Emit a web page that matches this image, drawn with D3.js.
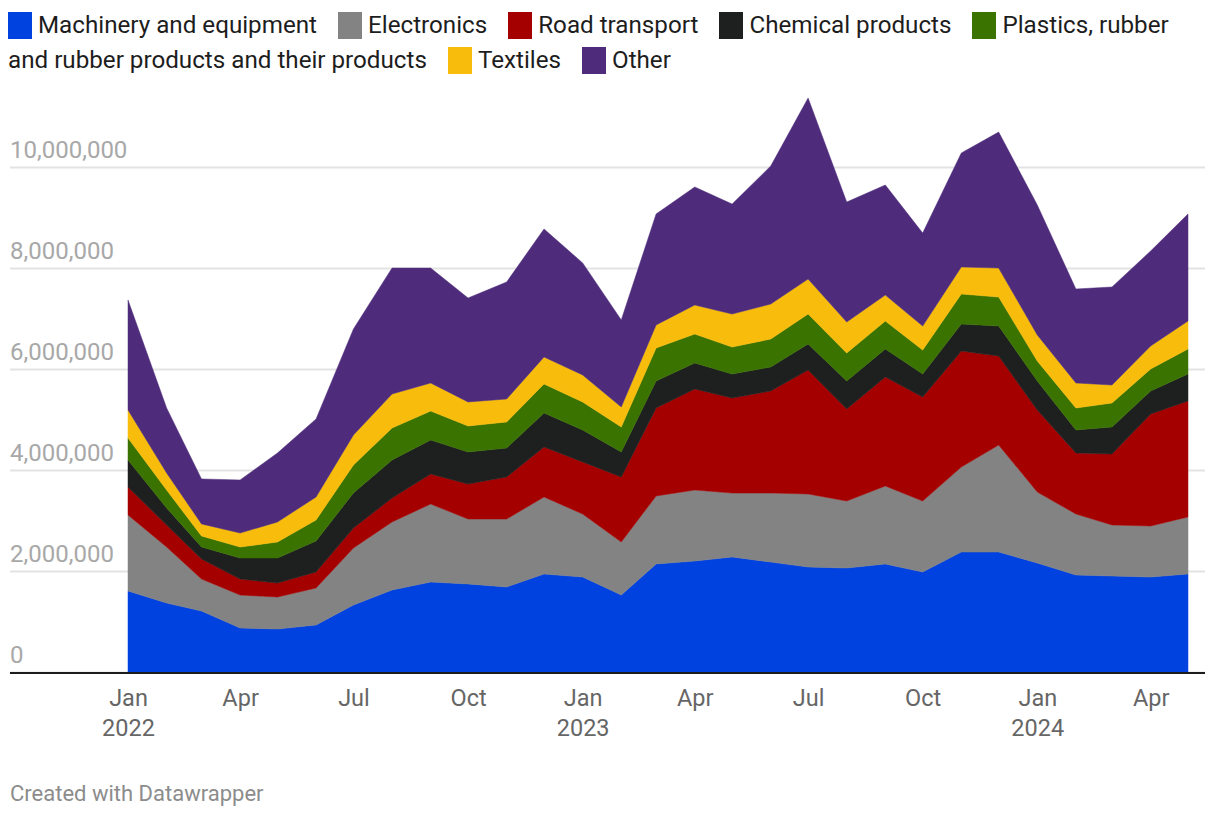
<!DOCTYPE html>
<html>
<head>
<meta charset="utf-8">
<script src="https://cdn.jsdelivr.net/npm/d3@7"></script>
<style>
  html, body { margin: 0; padding: 0; background: #fff; }
  body { width: 1220px; height: 818px; position: relative; font-family: Roboto, "Noto Sans", sans-serif; overflow: hidden; }
  #legend { position: absolute; left: 8px; top: 8px; width: 1202px; font-size: 24.2px; line-height: 35px; color: #1d1d1d; }
  .item { display: inline; margin-right: 21px; }
  .sw { display: inline-block; width: 24px; height: 27px; vertical-align: -6px; margin-right: 6px; }
  #footer { position: absolute; left: 10px; top: 781px; font-size: 22px; color: #8c8c8c; }
  svg { position: absolute; left: 0; top: 0; }
</style>
</head>
<body>
<div id="legend"></div>
<svg id="chart" width="1220" height="818"></svg>
<div id="footer">Created with Datawrapper</div>
<script>
const months = ["2022-01","2022-02","2022-03","2022-04","2022-05","2022-06","2022-07","2022-08","2022-09","2022-10","2022-11","2022-12",
  "2023-01","2023-02","2023-03","2023-04","2023-05","2023-06","2023-07","2023-08","2023-09","2023-10","2023-11","2023-12",
  "2024-01","2024-02","2024-03","2024-04","2024-05"];

const seriesNames = ["Machinery and equipment","Electronics","Road transport","Chemical products","Plastics, rubber and rubber products and their products","Textiles","Other"];
const seriesColors = ["#0042e0","#838383","#a40000","#1e1f1f","#3b7300","#f8bc0c","#4e2c7b"];

const machinery = [1604,1366,1208,871,851,931,1327,1624,1782,1743,1683,1941,1881,1525,2139,2198,2277,2178,2079,2059,2139,1980,2376,2376,2158,1921,1901,1881,1941];
const electronics = [1505,1109,634,653,634,733,1129,1347,1545,1287,1347,1525,1248,1050,1347,1406,1267,1366,1446,1327,1545,1406,1683,2119,1406,1208,1010,1010,1129];
const roadTransport = [554,436,396,317,277,317,396,475,594,693,832,990,1030,1287,1743,2000,1881,2020,2455,1822,2158,2059,2297,1762,1624,1208,1406,2218,2297];
const chemical = [535,337,238,416,495,614,693,752,673,634,574,673,634,495,535,515,475,475,515,554,554,455,535,594,574,455,535,455,535];
const plastics = [436,356,218,218,317,416,554,634,574,515,515,574,554,495,653,574,535,554,594,554,554,475,594,574,396,436,475,436,495];
const textiles = [554,337,238,277,396,455,594,673,554,475,455,535,535,396,455,574,653,693,693,614,515,475,535,574,515,495,356,455,554];
const other = [2178,1287,891,1050,1366,1545,2099,2495,2277,2059,2317,2535,2218,1723,2198,2337,2178,2733,3584,2376,2178,1842,2257,2693,2574,1861,1941,1881,2119];

const yTicks = [0, 2000000, 4000000, 6000000, 8000000, 10000000];
const xTickMonths = ["2022-01","2022-04","2022-07","2022-10","2023-01","2023-04","2023-07","2023-10","2024-01","2024-04"];

const seriesValues = [machinery, electronics, roadTransport, chemical, plastics, textiles, other];
const parse = d3.timeParse("%Y-%m");
const table = months.map((m, i) => {
  const row = { date: parse(m) };
  seriesNames.forEach((n, k) => row[n] = seriesValues[k][i] * 1000);
  return row;
});

// legend
const legend = d3.select("#legend");
seriesNames.forEach((n, k) => {
  const it = legend.append("span").attr("class", "item");
  it.append("span").attr("class", "sw").style("background", seriesColors[k]);
  it.append("span").text(n);
});

const svg = d3.select("#chart");
const x = d3.scaleTime().domain([parse(months[0]), parse(months[months.length - 1])]).range([128, 1188]);
const y = d3.scaleLinear().domain([0, 10000000]).range([672, 167]);

// gridlines + y labels
const yAxis = d3.axisRight(y).tickValues(yTicks).tickSize(1195).tickFormat(d3.format(","));
const gy = svg.append("g").attr("transform", "translate(10,0)").call(yAxis);
gy.select(".domain").remove();
gy.selectAll(".tick line").attr("stroke", "#e3e3e3").attr("stroke-width", 2);
gy.selectAll(".tick text").attr("x", 0).attr("dy", -10).attr("text-anchor", "start")
  .attr("fill", "#a8a8a8").style("font-size", "24px").style("font-family", "Roboto, sans-serif");

// stacked areas
const stack = d3.stack().keys(seriesNames);
const layers = stack(table);
const area = d3.area().x(d => x(d.data.date)).y0(d => y(d[0])).y1(d => y(d[1]));
svg.append("g").selectAll("path").data(layers).join("path")
  .attr("d", area)
  .attr("fill", (d, i) => seriesColors[i])
  .attr("stroke", (d, i) => seriesColors[i])
  .attr("stroke-width", 0.5);

// baseline
svg.append("line").attr("x1", 10).attr("x2", 1205).attr("y1", y(0) + 1).attr("y2", y(0) + 1)
  .attr("stroke", "#1d1d1d").attr("stroke-width", 2);

// x axis
const xAxis = d3.axisBottom(x).tickValues(xTickMonths.map(parse)).tickSize(0).tickFormat(() => "");
const gx = svg.append("g").attr("transform", `translate(0,${y(0)})`).call(xAxis);
gx.select(".domain").remove();
gx.selectAll(".tick text").each(function(d) {
  const t = d3.select(this);
  t.text(null).attr("y", 0).attr("dy", null)
    .attr("fill", "#666").style("font-size", "23.5px").style("font-family", "Roboto, sans-serif");
  t.append("tspan").attr("x", 0).attr("y", 34).text(d3.timeFormat("%b")(d));
  if (d.getMonth() === 0) t.append("tspan").attr("x", 0).attr("y", 64).text(d3.timeFormat("%Y")(d));
});
</script>
</body>
</html>
